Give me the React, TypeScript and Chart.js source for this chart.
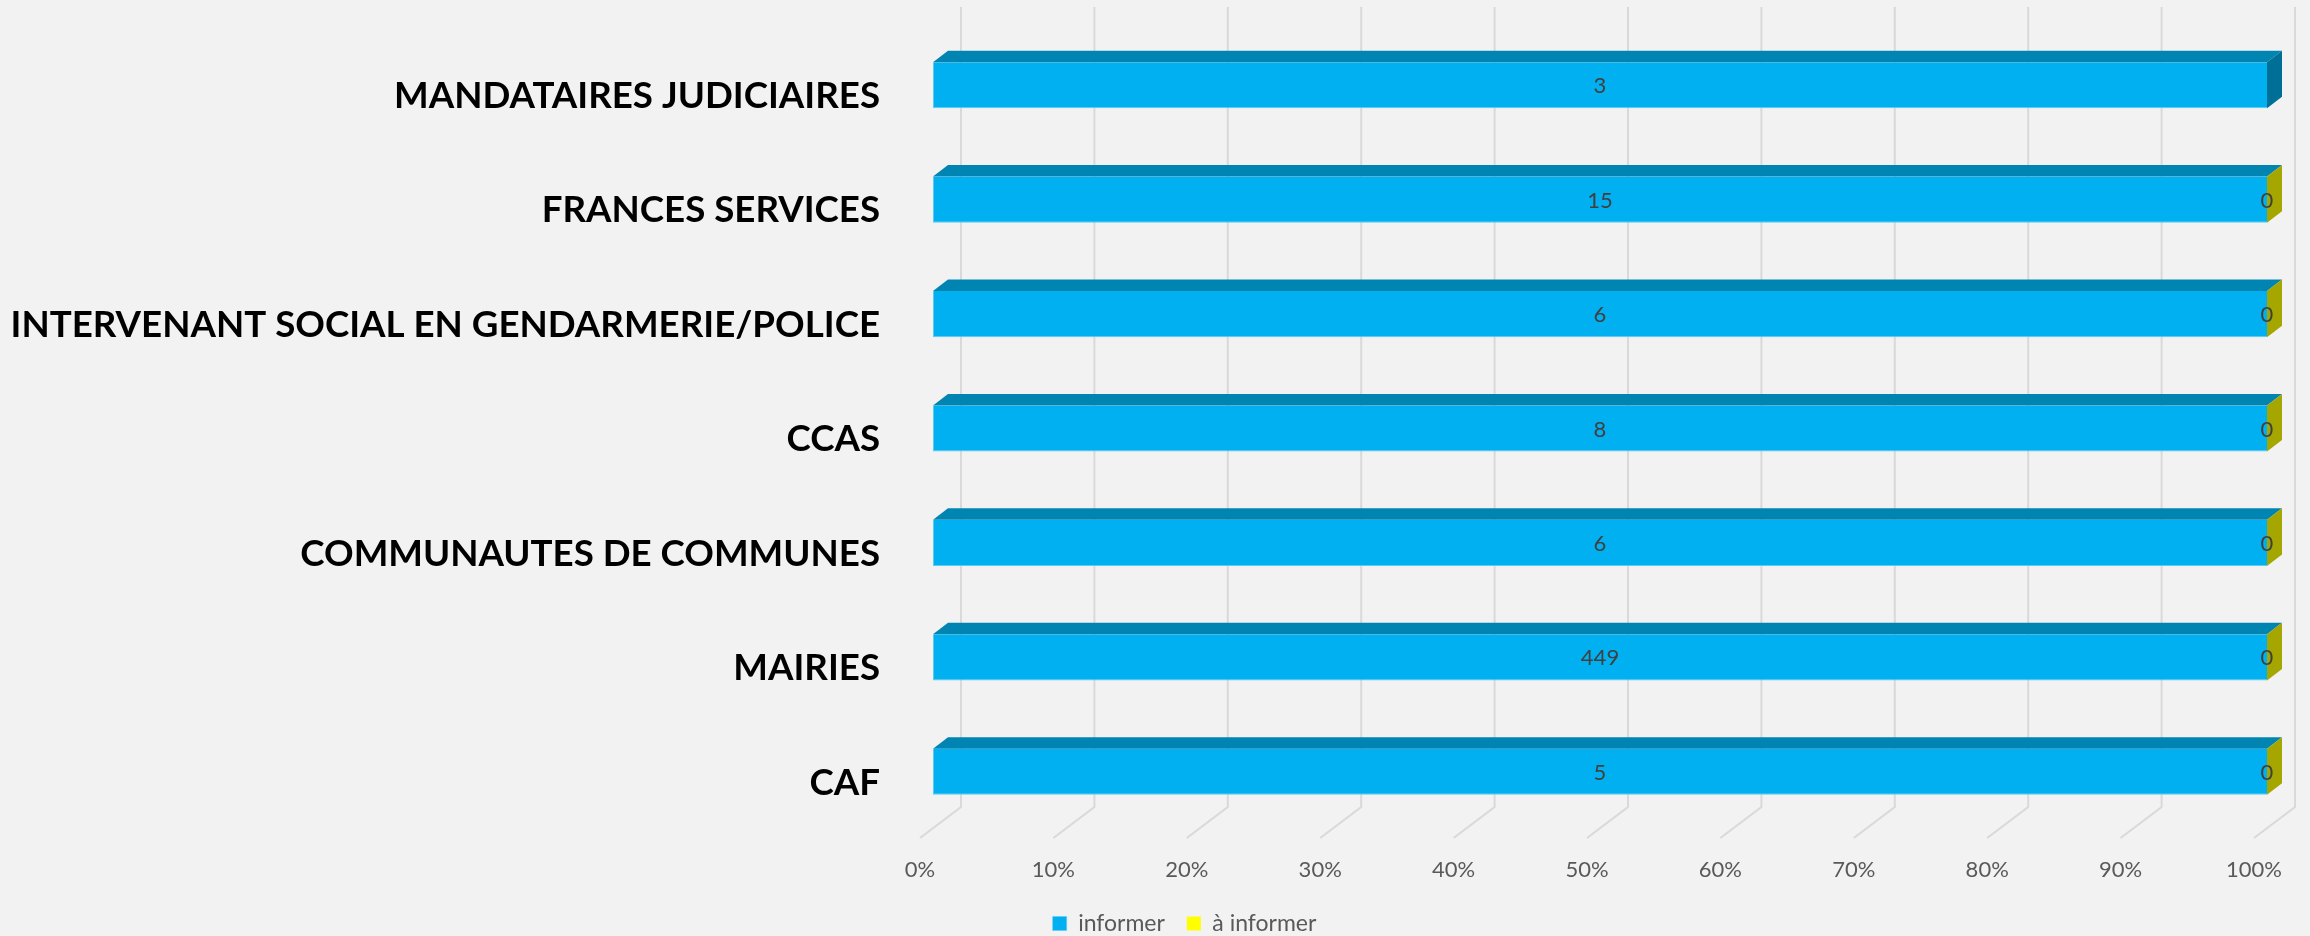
import React, { useEffect, useRef } from 'react';
import { Chart, registerables } from 'chart.js';

Chart.register(...registerables);

const categories: string[] = [
  'MANDATAIRES JUDICIAIRES',
  'FRANCES SERVICES',
  'INTERVENANT SOCIAL EN GENDARMERIE/POLICE',
  'CCAS',
  'COMMUNAUTES DE COMMUNES',
  'MAIRIES',
  'CAF',
];
const informerValues: (number | null)[] = [3, 15, 6, 8, 6, 449, 5];
const aInformerValues: (number | null)[] = [null, 0, 0, 0, 0, 0, 0];
const seriesNames: string[] = ['informer', 'à informer'];
const tickValues: number[] = [0, 10, 20, 30, 40, 50, 60, 70, 80, 90, 100];

const totals = informerValues.map((v, i) => (v ?? 0) + (aInformerValues[i] ?? 0));
const toPct = (arr: (number | null)[]) =>
  arr.map((v, i) => (v == null ? null : totals[i] ? (v / totals[i]) * 100 : 0));

const FONT = 'Lato';
const DEPTH_DX = 15;
const DEPTH_DY = 11.5;

const faceColors = [
  { front: '#00B0F0', top: '#0085B3', side: '#006F98', edge: '#5CCBF4' },
  { front: '#FFFF00', top: '#BFBF00', side: '#A6A600', edge: '#FFFF66' },
];

const bar3d = {
  id: 'bar3d',
  afterLayout(chart: any) {
    const lg = chart.legend;
    if (lg) {
      lg.left += 51;
      lg.right += 51;
      lg.top += 9;
      lg.bottom += 9;
    }
  },
  beforeDraw(chart: any) {
    const { ctx, width, height } = chart;
    ctx.save();
    ctx.fillStyle = '#F2F2F2';
    ctx.fillRect(0, 0, width, height);
    ctx.restore();
  },
  beforeDatasetsDraw(chart: any) {
    const { ctx, chartArea } = chart;
    const xs = chart.scales.x;
    ctx.save();
    ctx.strokeStyle = '#D9D9D9';
    ctx.lineWidth = 2;
    xs.ticks.forEach((t: any) => {
      const p = xs.getPixelForValue(t.value);
      ctx.beginPath();
      ctx.moveTo(p + 28, chartArea.top - 21);
      ctx.lineTo(p + 28, chartArea.bottom - 22);
      ctx.lineTo(p - 13, chartArea.bottom + 9);
      ctx.stroke();
    });
    ctx.restore();
  },
  afterDatasetsDraw(chart: any) {
    const { ctx } = chart;
    const datasets = chart.data.datasets;
    ctx.save();
    // top faces
    datasets.forEach((ds: any, d: number) => {
      const meta = chart.getDatasetMeta(d);
      meta.data.forEach((el: any, i: number) => {
        if (ds.data[i] == null) return;
        const { x, base, y, height } = el.getProps(['x', 'base', 'y', 'height'], true);
        if (Math.abs(x - base) < 0.5) return;
        const t = y - height / 2;
        ctx.fillStyle = faceColors[d].top;
        ctx.beginPath();
        ctx.moveTo(base, t);
        ctx.lineTo(base + DEPTH_DX, t - DEPTH_DY);
        ctx.lineTo(x + DEPTH_DX, t - DEPTH_DY);
        ctx.lineTo(x, t);
        ctx.closePath();
        ctx.fill();
      });
    });
    // side faces
    categories.forEach((_c, i) => {
      let last = -1;
      datasets.forEach((ds: any, d: number) => {
        if (ds.data[i] != null) last = d;
      });
      if (last < 0) return;
      const el = chart.getDatasetMeta(last).data[i];
      const { x, y, height } = el.getProps(['x', 'y', 'height'], true);
      const t = y - height / 2;
      const b = y + height / 2;
      ctx.fillStyle = faceColors[last].side;
      ctx.beginPath();
      ctx.moveTo(x, t);
      ctx.lineTo(x + DEPTH_DX, t - DEPTH_DY);
      ctx.lineTo(x + DEPTH_DX, b - DEPTH_DY);
      ctx.lineTo(x, b);
      ctx.closePath();
      ctx.fill();
    });
    // value labels
    ctx.font = `22px ${FONT}`;
    ctx.fillStyle = '#404040';
    ctx.textAlign = 'center';
    ctx.textBaseline = 'middle';
    datasets.forEach((ds: any, d: number) => {
      const meta = chart.getDatasetMeta(d);
      meta.data.forEach((el: any, i: number) => {
        const v = ds.rawValues[i];
        if (v == null) return;
        const { x, base, y } = el.getProps(['x', 'base', 'y'], true);
        ctx.fillText(String(v), (x + base) / 2, y + 1);
      });
    });
    ctx.restore();
  },
};

export default function App() {
  const ref = useRef<HTMLCanvasElement>(null);
  useEffect(() => {
    if (!ref.current) return;
    const chart = new Chart(ref.current, {
      type: 'bar',
      data: {
        labels: categories,
        datasets: [
          {
            label: seriesNames[0],
            data: toPct(informerValues),
            rawValues: informerValues,
            backgroundColor: faceColors[0].front,
            borderColor: faceColors[0].edge,
            borderWidth: { top: 0, right: 0, bottom: 1, left: 1 },
            borderSkipped: false,
          } as any,
          {
            label: seriesNames[1],
            data: toPct(aInformerValues),
            rawValues: aInformerValues,
            backgroundColor: faceColors[1].front,
            borderWidth: 0,
          } as any,
        ],
      },
      options: {
        indexAxis: 'y',
        responsive: false,
        maintainAspectRatio: false,
        animation: false,
        datasets: { bar: { categoryPercentage: 1, barPercentage: 0.403 } },
        layout: { padding: { top: 28, right: 43, left: 0, bottom: 0 } },
        scales: {
          x: {
            stacked: true,
            min: 0,
            max: 100,
            afterBuildTicks: (scale: any) => {
              scale.ticks = tickValues.map((v) => ({ value: v }));
            },
            afterFit: (scale: any) => {
              scale.height = 52;
              scale.paddingLeft = 0;
              scale.paddingRight = 0;
            },
            grid: { display: false, drawTicks: false },
            border: { display: false },
            ticks: {
              padding: 28,
              labelOffset: -13,
              maxRotation: 0,
              autoSkip: false,
              color: '#595959',
              font: { family: FONT, size: 22 },
              callback: (v: any) => `${v}%`,
            },
          },
          y: {
            stacked: true,
            afterFit: (scale: any) => {
              scale.width = 933;
              scale.paddingTop = 0;
              scale.paddingBottom = 0;
            },
            grid: { display: false, drawTicks: false },
            border: { display: false },
            ticks: {
              padding: 53,
              labelOffset: 11,
              color: '#000000',
              font: { family: FONT, size: 36.7, weight: 'bold' },
            },
          },
        },
        plugins: {
          legend: {
            position: 'bottom',
            labels: {
              boxWidth: 14,
              boxHeight: 14,
              padding: 22,
              color: '#595959',
              font: { family: FONT, size: 23 },
            },
          },
          tooltip: { enabled: false },
        },
      },
      plugins: [bar3d],
    });
    return () => chart.destroy();
  }, []);
  return (
    <div style={{ position: 'fixed', left: 0, top: 0, width: 2310, height: 936, background: '#F2F2F2' }}>
      <canvas ref={ref} width={2310} height={936} style={{ width: 2310, height: 936, display: 'block' }} />
    </div>
  );
}
